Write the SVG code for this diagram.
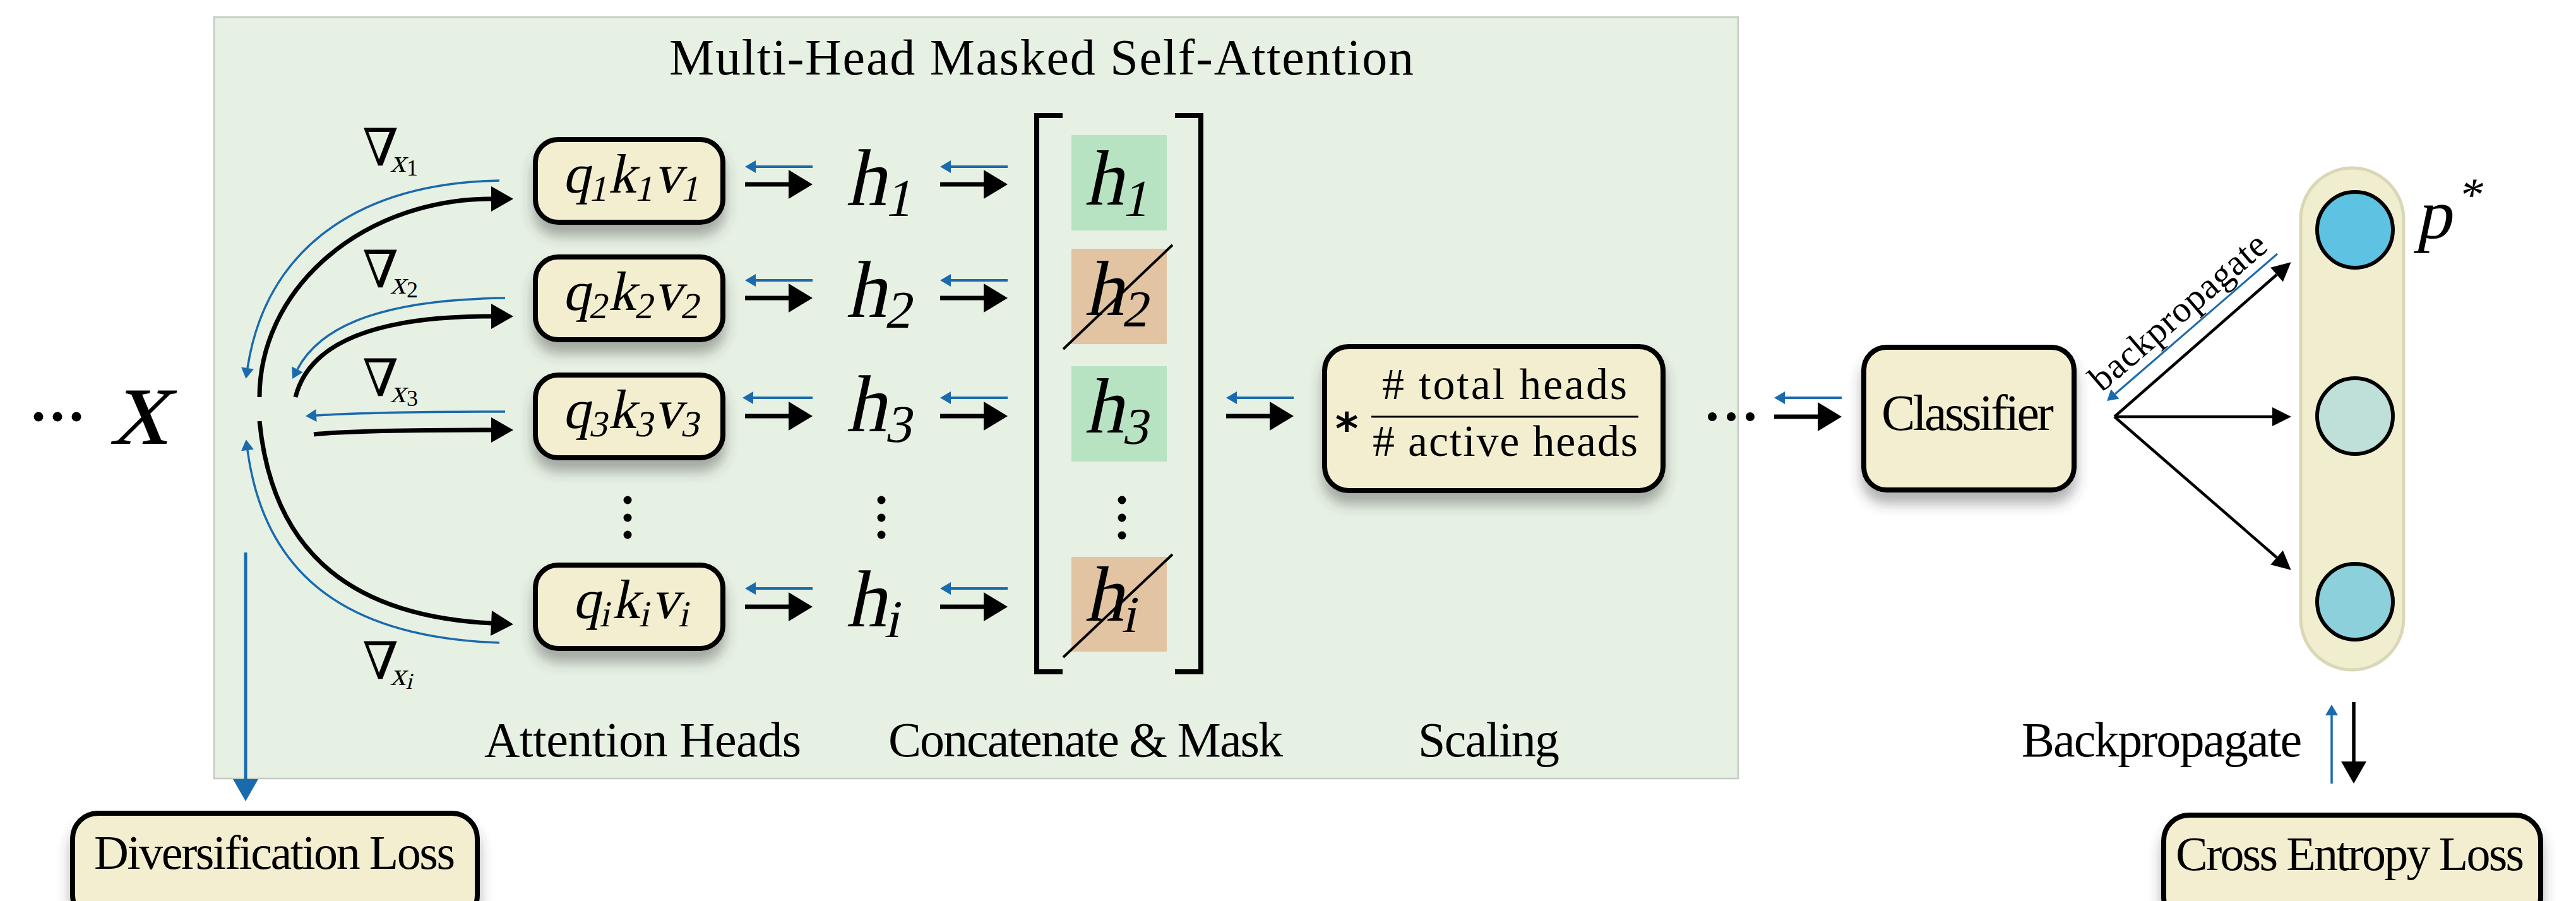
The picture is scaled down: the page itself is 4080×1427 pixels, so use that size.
<svg xmlns="http://www.w3.org/2000/svg" width="4080" height="1427" viewBox="0 0 4080 1427">
<style>
.lbl{font-family:"Liberation Serif",serif;fill:#000}
.m{font-family:"Liberation Serif",serif;fill:#000}
.nab{font-family:"DejaVu Serif",serif;fill:#000}
.box{fill:#F2EECF;stroke:#000;stroke-width:8}
.fw{stroke:#000;stroke-width:7;fill:none}
.bw{stroke:#1A6AAE;stroke-width:4;fill:none}
.cv{stroke:#000;stroke-width:7;fill:none}
.bc{stroke:#1A6AAE;stroke-width:3.5;fill:none}
.fan{stroke:#000;stroke-width:4.5;fill:none}
.dot{fill:#000}
</style>
<defs>
<filter id="sh" x="-20%" y="-20%" width="140%" height="170%">
<feDropShadow dx="0" dy="18" stdDeviation="10" flood-color="#3c3c3c" flood-opacity="0.4"/>
</filter>
<marker id="mBk" markerUnits="userSpaceOnUse" markerWidth="40" markerHeight="48" refX="0" refY="23" orient="auto" overflow="visible"><path d="M0,0 L38,23 L0,46 z" fill="#000"/></marker>
<marker id="mCv" markerUnits="userSpaceOnUse" markerWidth="36" markerHeight="42" refX="0" refY="20" orient="auto" overflow="visible"><path d="M0,0 L35,20 L0,40 z" fill="#000"/></marker>
<marker id="mBl" markerUnits="userSpaceOnUse" markerWidth="18" markerHeight="22" refX="0" refY="10" orient="auto" overflow="visible"><path d="M0,0 L17,10 L0,20 z" fill="#1A6AAE"/></marker>
<marker id="mBlL" markerUnits="userSpaceOnUse" markerWidth="36" markerHeight="42" refX="0" refY="20" orient="auto" overflow="visible"><path d="M0,0 L35,20 L0,40 z" fill="#1A6AAE"/></marker>
<marker id="mFan" markerUnits="userSpaceOnUse" markerWidth="32" markerHeight="32" refX="0" refY="15" orient="auto" overflow="visible"><path d="M0,0 L30,15 L0,30 z" fill="#000"/></marker>
</defs>

<g id="panel">
<rect x="339" y="27" width="2414" height="1206" fill="#E6F0E3" stroke="#C4CAC2" stroke-width="2.5"/>
<text class="lbl" x="1060" y="118" font-size="80" textLength="1179">Multi-Head Masked Self-Attention</text>
<text class="lbl" x="767" y="1198" font-size="78" textLength="502">Attention Heads</text>
<text class="lbl" x="1407" y="1198" font-size="78" textLength="625">Concatenate &amp; Mask</text>
<text class="lbl" x="2246" y="1198" font-size="78" textLength="224">Scaling</text>
</g>

<g id="input">
<circle class="dot" cx="61" cy="660" r="7.5"/><circle class="dot" cx="91" cy="660" r="7.5"/><circle class="dot" cx="121" cy="660" r="7.5"/>
<g transform="translate(174,703) skewX(-14)"><text class="m" x="0" y="0" font-size="184">x</text></g>
</g>

<g id="grads">
<text class="nab" x="574" y="262" font-size="82">∇</text>
<g transform="translate(618,272) skewX(-14)"><text class="m" x="0" y="0" font-size="50">x</text></g><text class="m" x="644" y="278" font-size="36">1</text>
<text class="nab" x="574" y="455" font-size="82">∇</text>
<g transform="translate(618,465) skewX(-14)"><text class="m" x="0" y="0" font-size="50">x</text></g><text class="m" x="644" y="471" font-size="36">2</text>
<text class="nab" x="574" y="627" font-size="82">∇</text>
<g transform="translate(618,637) skewX(-14)"><text class="m" x="0" y="0" font-size="50">x</text></g><text class="m" x="644" y="643" font-size="36">3</text>
<text class="nab" x="574" y="1075" font-size="82">∇</text>
<g transform="translate(618,1085) skewX(-14)"><text class="m" x="0" y="0" font-size="50">x</text><text class="m" x="26" y="6" font-size="36">i</text></g>
</g>

<g id="head1"><rect class="box" x="848" y="221" width="297" height="131" rx="36" filter="url(#sh)"/>
<g transform="translate(1000,305) skewX(-12)"><text class="m" x="0" y="0" font-size="88" text-anchor="middle" textLength="218">q<tspan font-size="58" dy="13">1</tspan><tspan dy="-13">k</tspan><tspan font-size="58" dy="13">1</tspan><tspan dy="-13">v</tspan><tspan font-size="58" dy="13">1</tspan></text></g></g>
<g id="head2"><rect class="box" x="848" y="407" width="297" height="131" rx="36" filter="url(#sh)"/>
<g transform="translate(1000,491) skewX(-12)"><text class="m" x="0" y="0" font-size="88" text-anchor="middle" textLength="218">q<tspan font-size="58" dy="13">2</tspan><tspan dy="-13">k</tspan><tspan font-size="58" dy="13">2</tspan><tspan dy="-13">v</tspan><tspan font-size="58" dy="13">2</tspan></text></g></g>
<g id="head3"><rect class="box" x="848" y="594" width="297" height="131" rx="36" filter="url(#sh)"/>
<g transform="translate(1000,678) skewX(-12)"><text class="m" x="0" y="0" font-size="88" text-anchor="middle" textLength="218">q<tspan font-size="58" dy="13">3</tspan><tspan dy="-13">k</tspan><tspan font-size="58" dy="13">3</tspan><tspan dy="-13">v</tspan><tspan font-size="58" dy="13">3</tspan></text></g></g>
<g id="headi"><rect class="box" x="848" y="895" width="297" height="132" rx="36" filter="url(#sh)"/>
<g transform="translate(1000,979) skewX(-12)"><text class="m" x="0" y="0" font-size="88" text-anchor="middle" textLength="186">q<tspan font-size="58" dy="13">i</tspan><tspan dy="-13">k</tspan><tspan font-size="58" dy="13">i</tspan><tspan dy="-13">v</tspan><tspan font-size="58" dy="13">i</tspan></text></g></g>
<g id="vdots1"><circle class="dot" cx="994" cy="792" r="6.5"/><circle class="dot" cx="994" cy="820" r="6.5"/><circle class="dot" cx="994" cy="847" r="6.5"/></g>

<g id="hlabels">
<g transform="translate(1340,325) skewX(-12)"><text class="m" x="0" y="0" font-size="128">h<tspan font-size="84" dy="17">1</tspan></text></g>
<g transform="translate(1340,502) skewX(-12)"><text class="m" x="0" y="0" font-size="128">h<tspan font-size="84" dy="17">2</tspan></text></g>
<g transform="translate(1340,683) skewX(-12)"><text class="m" x="0" y="0" font-size="128">h<tspan font-size="84" dy="17">3</tspan></text></g>
<g transform="translate(1340,992) skewX(-12)"><text class="m" x="0" y="0" font-size="128">h<tspan font-size="84" dy="17">i</tspan></text></g>
<circle class="dot" cx="1396" cy="792" r="6.5"/><circle class="dot" cx="1396" cy="820" r="6.5"/><circle class="dot" cx="1396" cy="847" r="6.5"/>
</g>

<g id="concat">
<path d="M1683,183 L1642,183 L1642,1064 L1683,1064" fill="none" stroke="#000" stroke-width="8"/>
<path d="M1861,183 L1902,183 L1902,1064 L1861,1064" fill="none" stroke="#000" stroke-width="8"/>
<rect x="1697" y="214" width="151" height="151" fill="#B8E3C3"/>
<rect x="1697" y="394" width="151" height="151" fill="#E2C3A2"/>
<rect x="1697" y="580" width="151" height="151" fill="#B8E3C3"/>
<rect x="1697" y="882" width="151" height="150" fill="#E2C3A2"/>
<g transform="translate(1718,324) skewX(-12)"><text class="m" x="0" y="0" font-size="124">h<tspan font-size="82" dy="18">1</tspan></text></g>
<g transform="translate(1718,499) skewX(-12)"><text class="m" x="0" y="0" font-size="124">h<tspan font-size="82" dy="18">2</tspan></text></g>
<g transform="translate(1718,685) skewX(-12)"><text class="m" x="0" y="0" font-size="124">h<tspan font-size="82" dy="18">3</tspan></text></g>
<g transform="translate(1718,983) skewX(-12)"><text class="m" x="0" y="0" font-size="124">h<tspan font-size="82" dy="18">i</tspan></text></g>
<line x1="1684" y1="553" x2="1857" y2="388" stroke="#000" stroke-width="4"/>
<line x1="1684" y1="1041" x2="1857" y2="878" stroke="#000" stroke-width="4"/>
<circle class="dot" cx="1777" cy="792" r="6.5"/><circle class="dot" cx="1777" cy="820" r="6.5"/><circle class="dot" cx="1777" cy="848" r="6.5"/>
</g>

<g id="scaling"><rect class="box" x="2098" y="549" width="536" height="228" rx="38" filter="url(#sh)"/>
<text x="2133" y="703" font-family="DejaVu Sans,sans-serif" font-weight="bold" font-size="70" text-anchor="middle">*</text>
<text class="lbl" x="2189" y="632" font-size="70" textLength="388"># total heads</text>
<line x1="2172" y1="660" x2="2595" y2="660" stroke="#000" stroke-width="3"/>
<text class="lbl" x="2174" y="722" font-size="70" textLength="420"># active heads</text></g>

<g id="more"><circle class="dot" cx="2712" cy="660" r="7"/><circle class="dot" cx="2742" cy="660" r="7"/><circle class="dot" cx="2772" cy="660" r="7"/></g>

<g id="classifier"><rect class="box" x="2952" y="550" width="333" height="226" rx="36" filter="url(#sh)"/>
<text class="lbl" x="2980" y="681" font-size="80" textLength="273">Classifier</text></g>

<g id="output">
<rect x="3644" y="266" width="163" height="795" rx="81.5" fill="#F1EECF" stroke="#D9D7B6" stroke-width="5"/>
<circle cx="3730" cy="364" r="60" fill="#5EC2E2" stroke="#000" stroke-width="6"/>
<circle cx="3730" cy="659" r="60" fill="#BEE0D8" stroke="#000" stroke-width="6"/>
<circle cx="3730" cy="953" r="60" fill="#8CD0DC" stroke="#000" stroke-width="6"/>
<g transform="translate(3826,377) skewX(-12)"><text class="m" x="0" y="0" font-size="112">p<tspan font-size="74" dy="-44">*</tspan></text></g>
</g>

<g id="divloss"><rect class="box" x="115" y="1288" width="641" height="170" rx="40" filter="url(#sh)"/>
<text class="lbl" x="149" y="1376" font-size="76" textLength="572">Diversification Loss</text></g>
<g id="celoss"><rect class="box" x="3427" y="1291" width="597" height="170" rx="40" filter="url(#sh)"/>
<text class="lbl" x="3446" y="1378" font-size="76" textLength="552">Cross Entropy Loss</text></g>

<g id="connectors">
<path class="cv" d="M411,629 A367,314 0 0 1 778,315" marker-end="url(#mCv)"/>
<path class="cv" d="M468,629 C490,540 600,501 778,501" marker-end="url(#mCv)"/>
<path class="cv" d="M497,688 Q560,681 778,681" marker-end="url(#mCv)"/>
<path class="cv" d="M411,667 C430,860 540,975 778,987" marker-end="url(#mCv)"/>
<path class="bc" d="M791,286 C560,290 420,400 392,583" marker-end="url(#mBl)"/>
<path class="bc" d="M800,472 C620,474 510,510 471,585" marker-end="url(#mBl)"/>
<path class="bc" d="M800,652 Q600,652 501,658" marker-end="url(#mBl)"/>
<path class="bc" d="M791,1018 C560,1010 420,920 392,713" marker-end="url(#mBl)"/>
<line x1="389" y1="875" x2="389" y2="1234" stroke="#1A6AAE" stroke-width="5" marker-end="url(#mBlL)"/>

<line class="fw" x1="1180" y1="292" x2="1249" y2="292" marker-end="url(#mBk)"/>
<line class="fw" x1="1180" y1="472" x2="1249" y2="472" marker-end="url(#mBk)"/>
<line class="fw" x1="1180" y1="659" x2="1249" y2="659" marker-end="url(#mBk)"/>
<line class="fw" x1="1180" y1="961" x2="1249" y2="961" marker-end="url(#mBk)"/>
<line class="bw" x1="1287" y1="264" x2="1197" y2="264" marker-end="url(#mBl)"/>
<line class="bw" x1="1287" y1="444" x2="1197" y2="444" marker-end="url(#mBl)"/>
<line class="bw" x1="1287" y1="630" x2="1193" y2="630" marker-end="url(#mBl)"/>
<line class="bw" x1="1287" y1="932" x2="1197" y2="932" marker-end="url(#mBl)"/>

<line class="fw" x1="1489" y1="292" x2="1558" y2="292" marker-end="url(#mBk)"/>
<line class="fw" x1="1489" y1="472" x2="1558" y2="472" marker-end="url(#mBk)"/>
<line class="fw" x1="1489" y1="659" x2="1558" y2="659" marker-end="url(#mBk)"/>
<line class="fw" x1="1489" y1="961" x2="1558" y2="961" marker-end="url(#mBk)"/>
<line class="bw" x1="1596" y1="264" x2="1506" y2="264" marker-end="url(#mBl)"/>
<line class="bw" x1="1596" y1="444" x2="1506" y2="444" marker-end="url(#mBl)"/>
<line class="bw" x1="1596" y1="630" x2="1506" y2="630" marker-end="url(#mBl)"/>
<line class="bw" x1="1596" y1="932" x2="1506" y2="932" marker-end="url(#mBl)"/>

<line class="fw" x1="1942" y1="659" x2="2011" y2="659" marker-end="url(#mBk)"/>
<line class="bw" x1="2049" y1="630" x2="1959" y2="630" marker-end="url(#mBl)"/>

<line class="fw" x1="2810" y1="660" x2="2879" y2="660" marker-end="url(#mBk)"/>
<line class="bw" x1="2917" y1="630" x2="2827" y2="630" marker-end="url(#mBl)"/>

<line class="fan" x1="3349" y1="660" x2="3606" y2="435" marker-end="url(#mFan)"/>
<line class="fan" x1="3349" y1="660" x2="3599" y2="660" marker-end="url(#mFan)"/>
<line class="fan" x1="3349" y1="660" x2="3606" y2="883" marker-end="url(#mFan)"/>
<line x1="3607" y1="402" x2="3350" y2="624" stroke="#1A6AAE" stroke-width="3" marker-end="url(#mBl)"/>
<text class="lbl" x="0" y="0" font-size="58" text-anchor="middle" textLength="350" transform="translate(3462,508) rotate(-40.7)">backpropagate</text>

<line x1="3693" y1="1241" x2="3693" y2="1133" stroke="#1A6AAE" stroke-width="3.5" marker-end="url(#mBl)"/>
<line x1="3728" y1="1112" x2="3728" y2="1206" stroke="#000" stroke-width="5.5" marker-end="url(#mCv)"/>
<text class="lbl" x="3202" y="1198" font-size="78" textLength="444">Backpropagate</text>
</g>
</svg>
